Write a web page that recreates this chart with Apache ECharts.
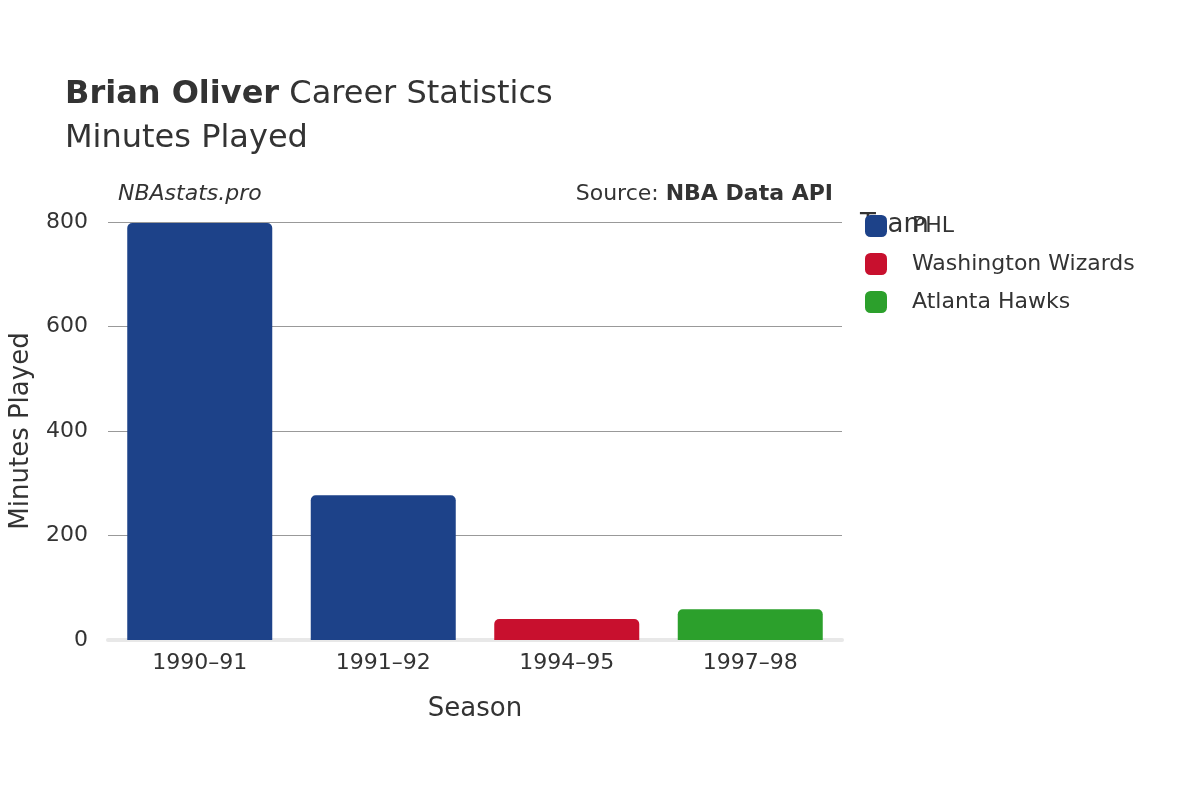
<!DOCTYPE html>
<html>
<head>
<meta charset="UTF-8">
<script src="https://cdn.jsdelivr.net/npm/echarts@6/dist/echarts.min.js"></script>
<style>body{margin:0}#main{width:1200px;height:800px}</style>
</head>
<body>
<div id="main"></div>
<script>
var seasons = ['1990–91', '1991–92', '1994–95', '1997–98'];
var teams = ['PHL', 'Washington Wizards', 'Atlanta Hawks'];
var teamColors = ['#1d4289', '#c8102e', '#2ca02c'];
var phl = [798, 277, '-', '-'];
var wiz = ['-', '-', 40, '-'];
var atl = ['-', '-', '-', 59];
var yTicks = [0, 200, 400, 600, 800];

var font = 'DejaVu Sans';
var chart = echarts.init(document.getElementById('main'));
var values = [phl, wiz, atl];
chart.setOption({
  textStyle: {fontFamily: font},
  title: [
    {text: '{b|Brian Oliver} Career Statistics\nMinutes Played', left: 60, top: 68,
     textStyle: {fontSize: 32, fontWeight: 'normal', color: '#333', lineHeight: 44,
       rich: {b: {fontSize: 32, fontWeight: 'bold', color: '#333', fontFamily: font}}}},
    {text: 'NBAstats.pro', left: 113, top: 178, textStyle: {fontSize: 22, fontStyle: 'italic', fontWeight: 'normal', color: '#333'}},
    {text: 'Source: {b|NBA Data API}', right: 362, top: 178,
     textStyle: {fontSize: 22, fontWeight: 'normal', color: '#333',
       rich: {b: {fontSize: 22, fontWeight: 'bold', color: '#333', fontFamily: font}}}}
  ],
  legend: {
    orient: 'vertical', left: 860, top: 210, itemWidth: 22, itemHeight: 22, itemGap: 16,
    icon: 'roundRect', data: teams,
    textStyle: {fontSize: 22, color: '#333', padding: [0, 0, 0, 20]},
    formatter: function (n) { return n; }
  },
  graphic: [{type: 'text', left: 860, top: 212, style: {text: 'Team', fontSize: 26, fill: '#333', fontFamily: font}}],
  grid: {left: 108, right: 358, top: 222, bottom: 160},
  xAxis: {
    type: 'category', data: seasons, name: 'Season', nameLocation: 'middle', nameGap: 56,
    nameTextStyle: {fontSize: 26, color: '#333'},
    axisLine: {lineStyle: {color: '#e8e8e8', width: 4}}, axisTick: {show: false},
    axisLabel: {fontSize: 22, color: '#333', margin: 12}
  },
  yAxis: {
    type: 'value', min: 0, max: 800, interval: 200, name: 'Minutes Played',
    nameLocation: 'middle', nameGap: 74, nameTextStyle: {fontSize: 26, color: '#333'},
    axisLabel: {fontSize: 22, color: '#333', margin: 20, formatter: function (v) { return yTicks.indexOf(v) >= 0 ? v : ''; }},
    splitLine: {lineStyle: {color: '#999'}}
  },
  series: teams.map(function (t, i) {
    return {name: t, type: 'bar', stack: 'all', data: values[i], barWidth: 145,
      itemStyle: {color: teamColors[i], borderRadius: [5, 5, 0, 0]}};
  })
});
</script>
</body>
</html>
